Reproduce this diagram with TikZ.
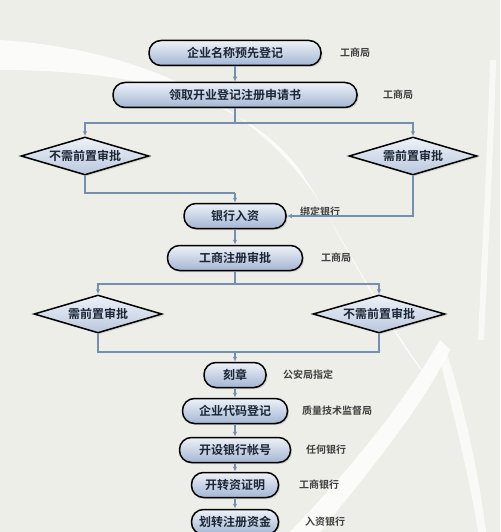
\documentclass[tikz,border=0pt]{standalone}
\usepackage{fontspec}
\newfontfamily\cjk{Noto Sans CJK SC}[BoldFont={Noto Sans CJK SC Bold}]
\usetikzlibrary{shapes.geometric,arrows.meta,shadows}
\definecolor{bgc}{HTML}{EEEEE8}
\definecolor{linec}{HTML}{7390B0}
\definecolor{topc}{HTML}{EEF2F8}
\definecolor{botc}{HTML}{A3B6D3}
\definecolor{txtc}{HTML}{1C2636}
\tikzset{
  procbox/.style={draw=black, line width=1.5pt, rounded corners=12pt,
    top color=topc, bottom color=botc, minimum height=25pt, inner sep=0pt,
    font=\cjk\bfseries\fontsize{12pt}{12pt}\selectfont, text=txtc,
    drop shadow={shadow xshift=1.5pt, shadow yshift=-1.5pt, opacity=0.25}},
  decbox/.style={draw=black, line width=1.5pt, diamond, aspect=3.4, inner sep=0pt,
    minimum width=128pt, minimum height=38pt,
    top color=topc, bottom color=botc!70!topc,
    font=\cjk\bfseries\fontsize{12pt}{12pt}\selectfont, text=txtc,
    drop shadow={shadow xshift=1.5pt, shadow yshift=-1.5pt, opacity=0.25}},
  side/.style={font=\cjk\bfseries\fontsize{10pt}{10pt}\selectfont, text=black!75, anchor=west, inner sep=0pt},
  conn/.style={draw=linec, line width=1.1pt, -{Latex[length=5pt,width=4.5pt]}},
  plain/.style={draw=linec, line width=1.1pt},
}
\begin{document}
\begin{tikzpicture}[x=1pt,y=-1pt]
\useasboundingbox (0,0) rectangle (500,532);
\clip (0,0) rectangle (500,532);
\fill[bgc] (0,0) rectangle (500,532);
% decorative white swooshes
\fill[white,opacity=0.8] (0,40) .. controls (150,50) and (270,110) .. (330,220)
  .. controls (380,310) and (410,360) .. (430,380)
  .. controls (390,330) and (350,250) .. (300,170)
  .. controls (240,90) and (120,70) .. (0,70) -- cycle;
\fill[white,opacity=0.8] (440,340) .. controls (400,410) and (340,480) .. (290,532)
  -- (320,532) .. controls (370,470) and (420,410) .. (450,350) -- cycle;
\fill[white,opacity=0.7] (440,360) .. controls (455,420) and (470,480) .. (478,532)
  -- (486,532) .. controls (478,470) and (465,410) .. (446,350) -- cycle;
\fill[white,opacity=0.6] (490,60) .. controls (488,140) and (482,250) .. (478,340)
  -- (484,340) .. controls (488,250) and (494,140) .. (496,60) -- cycle;

% nodes
\node[procbox, minimum width=172pt] (n1) at (235,53) {企业名称预先登记};
\node[side] (l1) at (340,53) {工商局};
\node[procbox, minimum width=244pt] (n2) at (235,95) {领取开业登记注册申请书};
\node[side] (l2) at (383,95) {工商局};
\node[decbox] (d1) at (85,156) {不需前置审批};
\node[decbox] (d2) at (413,156) {需前置审批};
\node[procbox, minimum width=102pt] (n3) at (235,216) {银行入资};
\node[side, anchor=south west] (l3) at (300,217) {绑定银行};
\node[procbox, minimum width=135pt] (n4) at (235,258) {工商注册审批};
\node[side] (l4) at (321,258) {工商局};
\node[decbox] (d3) at (98,314) {需前置审批};
\node[decbox, minimum width=132pt] (d4) at (379,314) {不需前置审批};
\node[procbox, minimum width=62pt] (n5) at (235,375) {刻章};
\node[side] (l5) at (283,375) {公安局指定};
\node[procbox, minimum width=105pt] (n6) at (235,411) {企业代码登记};
\node[side] (l6) at (302,411) {质量技术监督局};
\node[procbox, minimum width=111pt] (n7) at (235,450) {开设银行帐号};
\node[side] (l7) at (306,450) {任何银行};
\node[procbox, minimum width=87pt] (n8) at (235,485) {开转资证明};
\node[side] (l8) at (299,485) {工商银行};
\node[procbox, minimum width=87pt] (n9) at (235,522) {划转注册资金};
\node[side] (l9) at (305,522) {入资银行};

% junction coordinates
\coordinate (s1) at (235,123);
\coordinate (m1) at (235,193);
\coordinate (s2) at (235,284);
\coordinate (m2) at (235,352);

% connectors
\draw[conn] (n1) -- (n2);
\draw[plain] (n2.south) -- (s1);
\draw[conn] (s1) -| (d1.north);
\draw[conn] (s1) -| (d2.north);
\draw[plain] (d1.south) |- (m1);
\draw[conn] (m1) -- (n3.north);
\draw[conn] (d2.south) |- (n3.east);
\draw[conn] (n3) -- (n4);
\draw[plain] (n4.south) -- (s2);
\draw[conn] (s2) -| (d3.north);
\draw[conn] (s2) -| (d4.north);
\draw[plain] (d3.south) |- (m2);
\draw[plain] (d4.south) |- (m2);
\draw[conn] (m2) -- (n5.north);
\draw[conn] (n5) -- (n6);
\draw[conn] (n6) -- (n7);
\draw[conn] (n7) -- (n8);
\draw[conn] (n8) -- (n9);
\end{tikzpicture}
\end{document}
